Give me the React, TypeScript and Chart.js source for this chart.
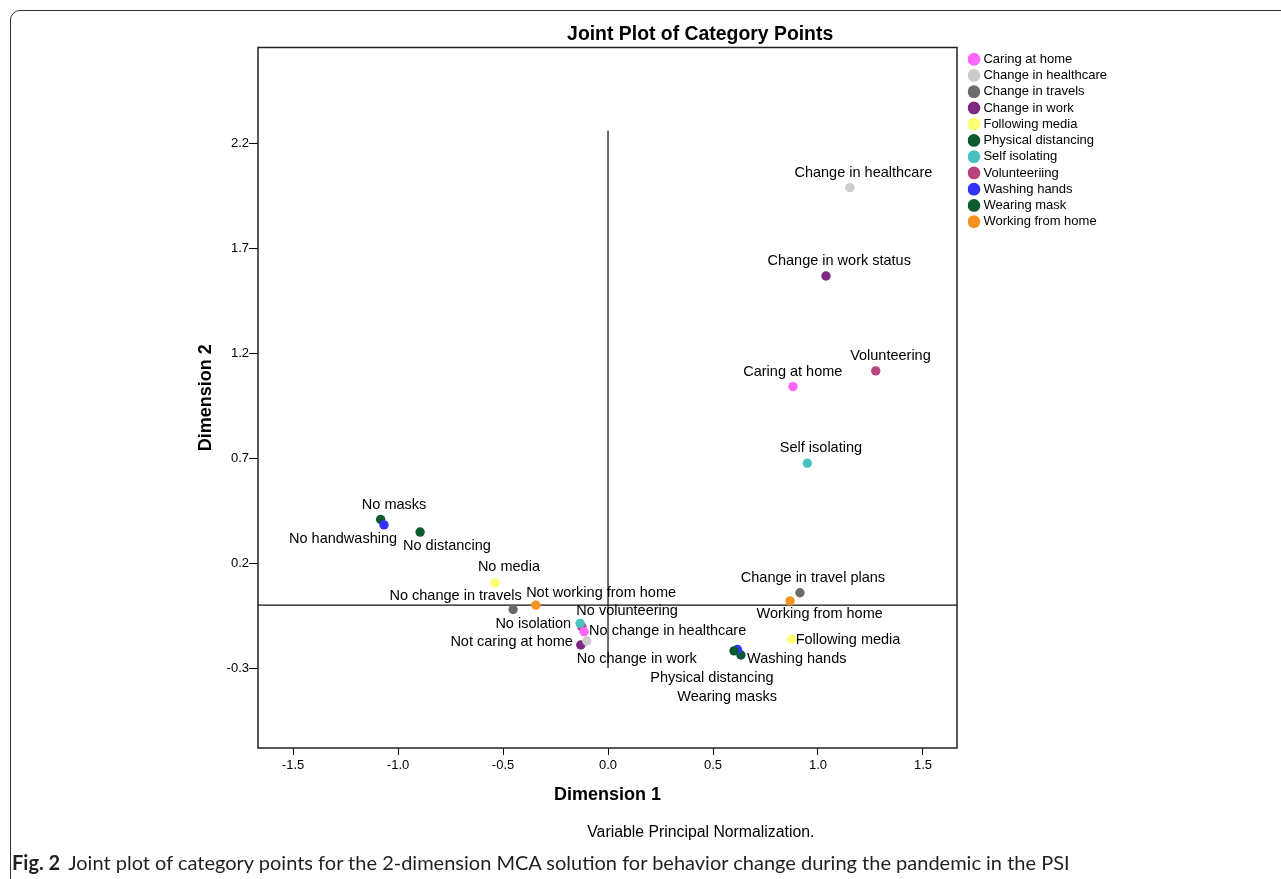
import React, { useEffect, useRef } from "react";
import { Chart, registerables } from "chart.js";

Chart.register(...registerables);

const FONT = "'Liberation Sans', Arial, Helvetica, sans-serif";

// ---- data ----
const chartTitle = "Joint Plot of Category Points";
const xTitle = "Dimension 1";
const yTitle = "Dimension 2";
const footnote = "Variable Principal Normalization.";
const captionLead = "Fig. 2";
const captionText =
  "Joint plot of category points for the 2-dimension MCA solution for behavior change during the pandemic in the PSI";

const categories = [
  "Caring at home",
  "Change in healthcare",
  "Change in travels",
  "Change in work",
  "Following media",
  "Physical distancing",
  "Self isolating",
  "Volunteeriing",
  "Washing hands",
  "Wearing mask",
  "Working from home",
];

const colors = [
  "#ff66ff",
  "#cccccc",
  "#6b6b6b",
  "#7d2a80",
  "#ffff73",
  "#0b5a30",
  "#47c1c1",
  "#b8437e",
  "#3333ff",
  "#0b5a30",
  "#f7931e",
];

// "yes" category points
const yesLabels = [
  "Caring at home",
  "Change in healthcare",
  "Change in travel plans",
  "Change in work status",
  "Following media",
  "Physical distancing",
  "Self isolating",
  "Volunteering",
  "Washing hands",
  "Wearing masks",
  "Working from home",
];
const yesDim1 = [0.881, 1.152, 0.914, 1.038, 0.875, 0.6, 0.949, 1.275, 0.616, 0.633, 0.867];
const yesDim2 = [1.041, 1.989, 0.059, 1.568, -0.163, -0.218, 0.676, 1.116, -0.211, -0.238, 0.02];
// label anchors (data units)
const yesLabelDim1 = [0.88, 1.216, 0.976, 1.101, 1.143, 0.495, 1.014, 1.345, 0.899, 0.567, 1.008];
const yesLabelDim2 = [1.113, 2.06, 0.13, 1.64, -0.167, -0.346, 0.749, 1.186, -0.257, -0.437, -0.043];

// "no" category points
const noLabels = [
  "Not caring at home",
  "No change in healthcare",
  "No change in travels",
  "No change in work",
  "No media",
  "No distancing",
  "No isolation",
  "No volunteering",
  "No handwashing",
  "No masks",
  "Not working from home",
];
const noDim1 = [-0.114, -0.101, -0.452, -0.13, -0.538, -0.895, -0.133, -0.125, -1.067, -1.083, -0.344];
const noDim2 = [-0.127, -0.171, -0.021, -0.19, 0.106, 0.348, -0.087, -0.103, 0.382, 0.408, 0.0];
const noLabelDim1 = [-0.459, 0.284, -0.726, 0.137, -0.472, -0.767, -0.356, 0.091, -1.262, -1.019, -0.033];
const noLabelDim2 = [-0.178, -0.122, 0.043, -0.257, 0.18, 0.281, -0.09, -0.027, 0.313, 0.476, 0.059];

const xTicks = [-1.5, -1.0, -0.5, 0.0, 0.5, 1.0, 1.5];
const yTicks = [-0.3, 0.2, 0.7, 1.2, 1.7, 2.2];
const X_MIN = -1.667;
const X_MAX = 1.662;
const Y_MIN = -0.681;
const Y_MAX = 2.657;
// reference axes through origin
const refVerticalTop = 2.262;
const refVerticalBottom = -0.3;

const frameAndRefPlugin = {
  id: "frameAndRef",
  beforeDatasetsDraw(chart: any) {
    const { ctx, chartArea: ca, scales } = chart;
    const xs = scales.x;
    const ys = scales.y;
    ctx.save();
    ctx.strokeStyle = "#111";
    ctx.lineWidth = 1.2;
    const y0 = ys.getPixelForValue(0);
    ctx.beginPath();
    ctx.moveTo(ca.left, y0);
    ctx.lineTo(ca.right, y0);
    const x0 = xs.getPixelForValue(0);
    ctx.moveTo(x0, ys.getPixelForValue(refVerticalTop));
    ctx.lineTo(x0, ys.getPixelForValue(refVerticalBottom));
    ctx.stroke();
    ctx.restore();
  },
  afterDraw(chart: any) {
    const { ctx, chartArea: ca } = chart;
    ctx.save();
    ctx.strokeStyle = "#222";
    ctx.lineWidth = 1.5;
    ctx.strokeRect(ca.left, ca.top, ca.right - ca.left, ca.bottom - ca.top);
    ctx.restore();
  },
};

const pointLabelPlugin = {
  id: "pointLabels",
  afterDatasetsDraw(chart: any) {
    const { ctx, scales } = chart;
    const xs = scales.x;
    const ys = scales.y;
    ctx.save();
    ctx.fillStyle = "#000";
    ctx.font = `14.5px ${FONT}`;
    ctx.textAlign = "center";
    ctx.textBaseline = "middle";
    categories.forEach((_, i) => {
      ctx.fillText(yesLabels[i], xs.getPixelForValue(yesLabelDim1[i]), ys.getPixelForValue(yesLabelDim2[i]));
      ctx.fillText(noLabels[i], xs.getPixelForValue(noLabelDim1[i]), ys.getPixelForValue(noLabelDim2[i]));
    });
    ctx.restore();
  },
};

const titlePlacePlugin = {
  id: "titlePlace",
  afterLayout(chart: any) {
    const tb = chart.titleBlock;
    if (tb && chart.legend) {
      tb.left = chart.chartArea.left;
      tb.right = chart.legend.right + 34.6;
    }
  },
};

export default function App() {
  const ref = useRef<HTMLCanvasElement>(null);

  useEffect(() => {
    const canvas = ref.current;
    if (!canvas) return;
    const datasets = categories.map((name, i) => ({
      label: name,
      data: [
        { x: yesDim1[i], y: yesDim2[i] },
        { x: noDim1[i], y: noDim2[i] },
      ],
      backgroundColor: colors[i],
      borderColor: colors[i],
      borderWidth: 0,
      pointRadius: 4.7,
      pointHoverRadius: 4.7,
      pointStyle: "circle",
      xAxisID: "x",
      yAxisID: "y",
    }));

    const chart = new Chart(canvas, {
      type: "scatter",
      data: { datasets },
      options: {
        responsive: false,
        animation: false,
        devicePixelRatio: 1,
        events: [],
        layout: { padding: { left: 190, right: 173.3, top: 0, bottom: 73.2 } },
        plugins: {
          title: {
            display: true,
            text: chartTitle,
            color: "#000",
            font: { family: FONT, size: 19.4, weight: "bold", lineHeight: 1.2 },
            padding: { top: 22.6, bottom: 1.6 },
          },
          legend: {
            position: "right",
            align: "start",
            fullSize: false,
            maxWidth: 140,
            title: {
              display: true,
              text: " ",
              font: { family: FONT, size: 2, lineHeight: 1 },
              padding: 0,
            },
            labels: {
              usePointStyle: true,
              boxWidth: 6,
              boxHeight: 9,
              padding: 3.25,
              color: "#000",
              font: { family: FONT, size: 13 },
            },
          },
          tooltip: { enabled: false },
        },
        scales: {
          x: {
            type: "linear",
            position: "bottom",
            min: X_MIN,
            max: X_MAX,
            afterBuildTicks: (s: any) => {
              s.ticks = xTicks.map((v) => ({ value: v }));
            },
            afterFit: (s: any) => {
              s.height = 57.8;
            },
            grid: {
              display: true,
              drawOnChartArea: false,
              drawTicks: true,
              tickLength: 7,
              color: "#000",
              lineWidth: 1,
            },
            border: { display: false },
            ticks: {
              autoSkip: false,
              maxRotation: 0,
              padding: 2.5,
              color: "#000",
              font: { family: FONT, size: 13 },
              callback: (v: any) => Number(v).toFixed(1),
            },
            title: {
              display: true,
              text: xTitle,
              color: "#000",
              font: { family: FONT, size: 18, weight: "bold", lineHeight: 1.2 },
              padding: { top: 0, bottom: 0 },
            },
          },
          y: {
            type: "linear",
            position: "left",
            min: Y_MIN,
            max: Y_MAX,
            afterBuildTicks: (s: any) => {
              s.ticks = yTicks.map((v) => ({ value: v }));
            },
            afterFit: (s: any) => {
              s.width = 68;
            },
            grid: {
              display: true,
              drawOnChartArea: false,
              drawTicks: true,
              tickLength: 9,
              color: "#000",
              lineWidth: 1,
            },
            border: { display: false },
            ticks: {
              autoSkip: false,
              padding: 0,
              color: "#000",
              font: { family: FONT, size: 13 },
              callback: (v: any) => Number(v).toFixed(1),
            },
            title: {
              display: true,
              text: yTitle,
              color: "#000",
              font: { family: FONT, size: 18, weight: "bold", lineHeight: 1.2 },
              padding: { top: 5.2, bottom: 0 },
            },
          },
          yr: {
            type: "linear",
            position: "right",
            display: true,
            grid: { display: false },
            border: { display: false },
            ticks: { display: false },
            afterFit: (s: any) => {
              s.width = 10.7;
            },
          },
        },
      } as any,
      plugins: [frameAndRefPlugin, pointLabelPlugin, titlePlacePlugin],
    });
    return () => chart.destroy();
  }, []);

  return (
    <div
      style={{
        position: "fixed",
        left: 0,
        top: 0,
        width: 1281,
        height: 879,
        overflow: "hidden",
        background: "#fff",
      }}
    >
      <div
        style={{
          position: "absolute",
          left: 10,
          top: 10,
          width: 1400,
          height: 1000,
          border: "1.5px solid #333",
          borderTopLeftRadius: 10,
          boxSizing: "border-box",
        }}
      />
      <canvas
        ref={ref}
        width={1281}
        height={879}
        style={{ position: "absolute", left: 0, top: 0, width: 1281, height: 879 }}
      />
      <div
        style={{
          position: "absolute",
          left: 700.8,
          top: 821.7,
          transform: "translateX(-50%)",
          whiteSpace: "nowrap",
          font: `15.8px/20px ${FONT}`,
          color: "#000",
        }}
      >
        {footnote}
      </div>
      <div
        style={{
          position: "absolute",
          left: 12,
          top: 849,
          whiteSpace: "nowrap",
          font: "20px/26px Lato, 'Open Sans', sans-serif",
          color: "#231f20",
        }}
      >
        <b style={{ marginRight: 8 }}>{captionLead}</b>
        {captionText}
      </div>
    </div>
  );
}
